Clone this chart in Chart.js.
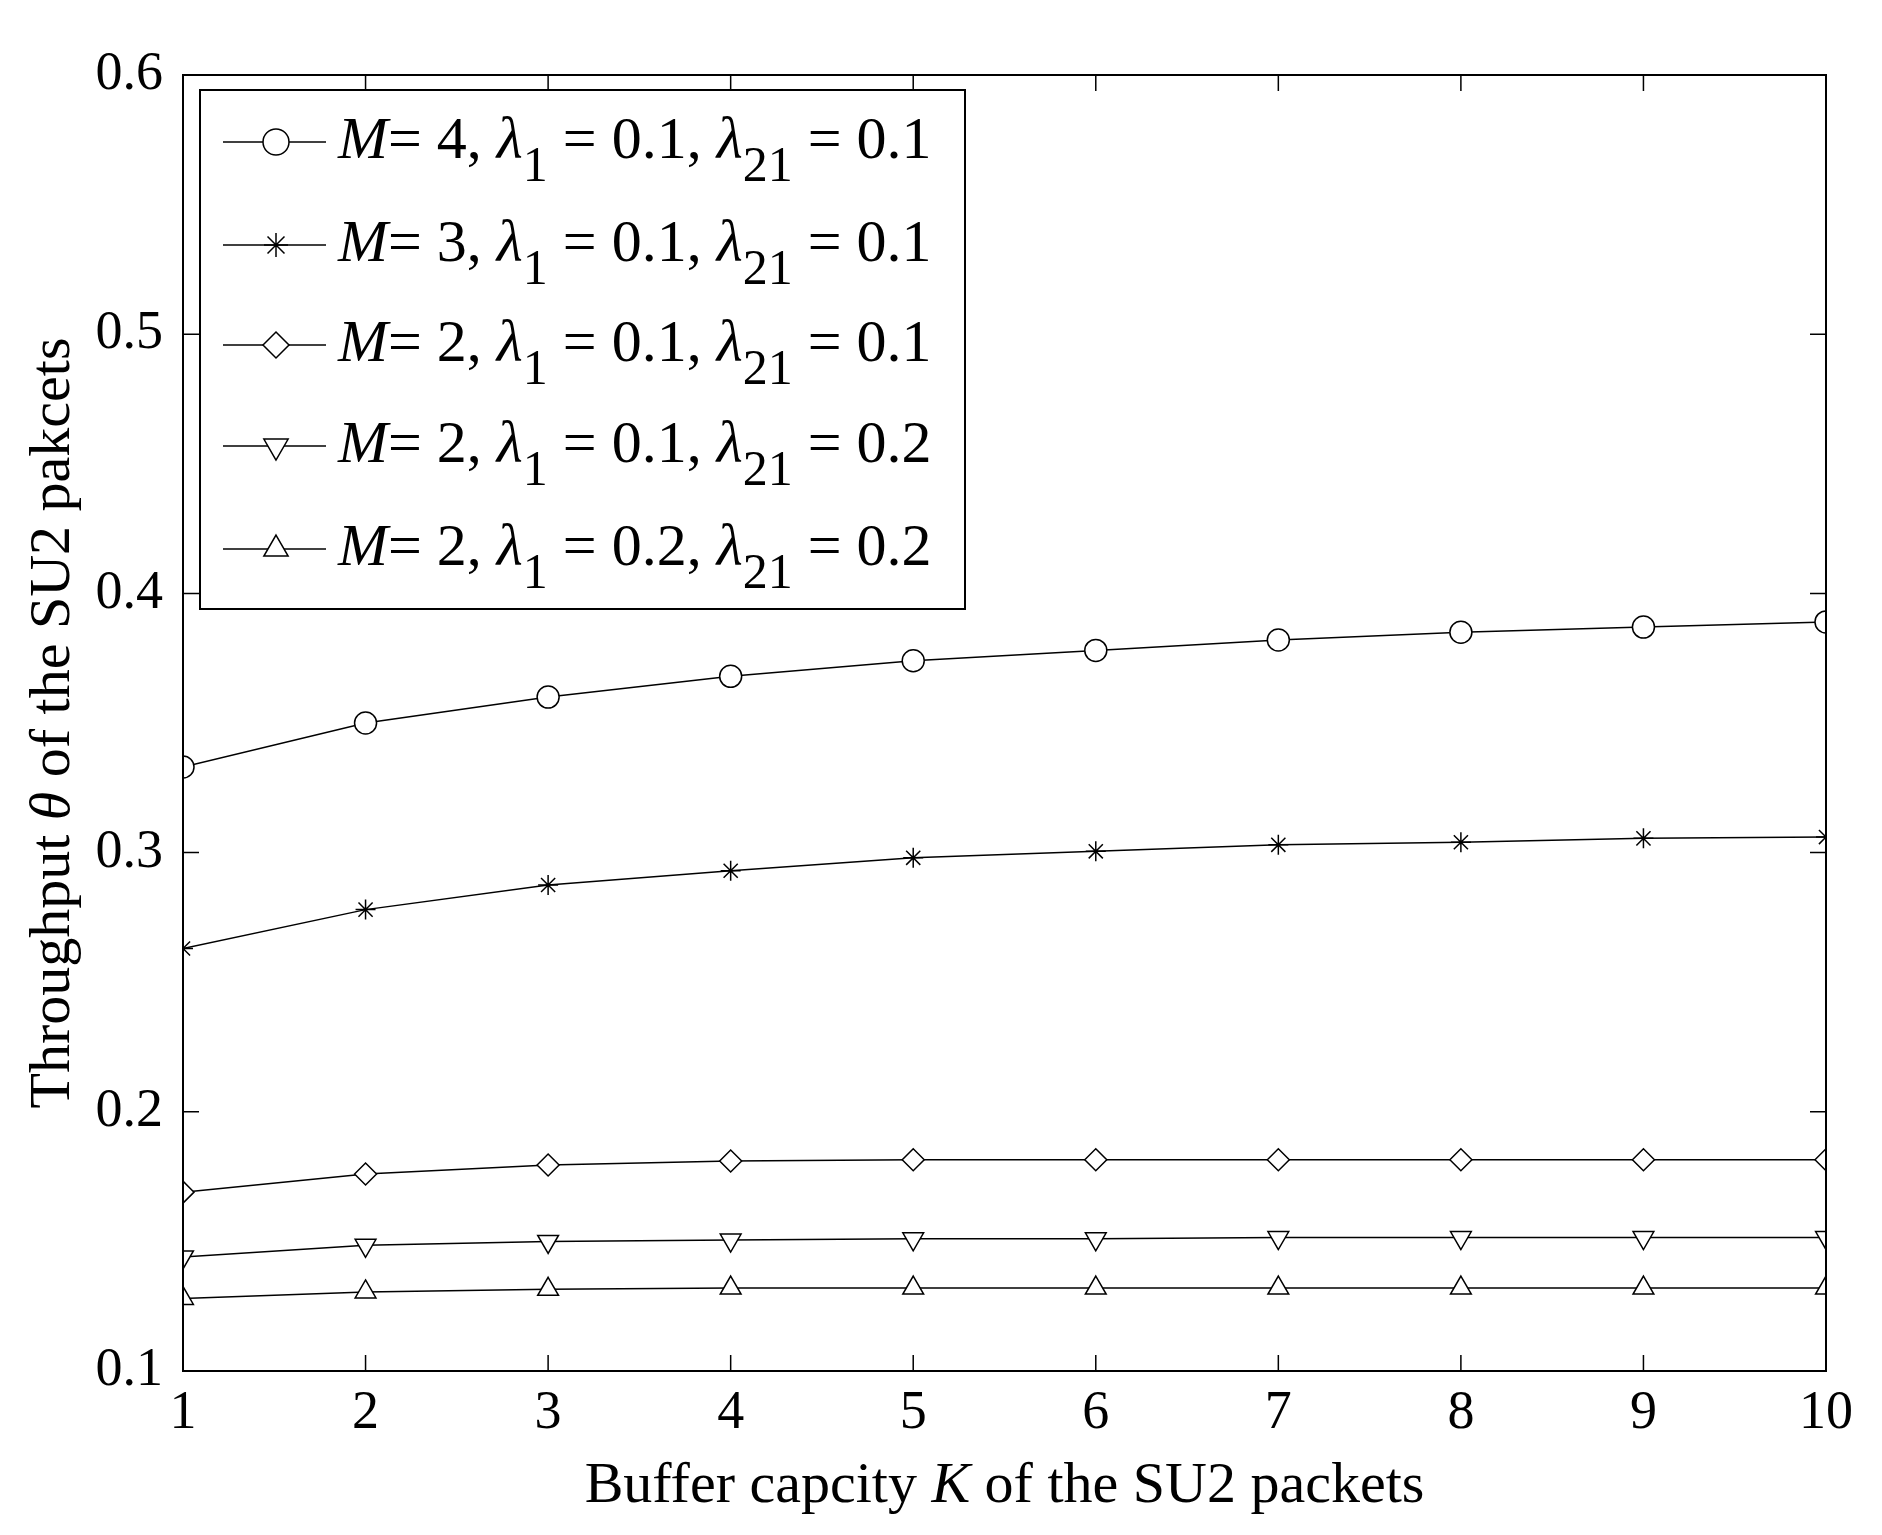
<!DOCTYPE html>
<html><head><meta charset="utf-8">
<script src="https://cdn.jsdelivr.net/npm/chart.js@4"></script>
<style>html,body{margin:0;padding:0;background:#fff}#c{display:block}</style>
</head><body>
<div style="width:1882px;height:1535px"><canvas id="c"></canvas></div>
<script>
const categories = [1,2,3,4,5,6,7,8,9,10];
const sM4 = [0.333,0.350,0.360,0.368,0.374,0.378,0.382,0.385,0.387,0.389];
const sM3 = [0.263,0.278,0.2875,0.293,0.298,0.3005,0.303,0.304,0.3055,0.306];
const sM2a = [0.169,0.176,0.1795,0.181,0.1815,0.1815,0.1815,0.1815,0.1815,0.1815];
const sM2b = [0.144,0.1485,0.150,0.1505,0.151,0.151,0.1515,0.1515,0.1515,0.1515];
const sM2c = [0.128,0.1305,0.1315,0.132,0.132,0.132,0.132,0.132,0.132,0.132];
const legendLabels = [["4","0.1","0.1"],["3","0.1","0.1"],["2","0.1","0.1"],["2","0.1","0.2"],["2","0.2","0.2"]];
const yTicks = [0.1,0.2,0.3,0.4,0.5,0.6];
const SERIF = '"Liberation Serif", "Times New Roman", serif';
const styles = [
  {pointStyle:'circle',rotation:0,r:11},
  {pointStyle:'star',rotation:0,r:10},
  {pointStyle:'rectRot',rotation:0,r:11},
  {pointStyle:'triangle',rotation:180,r:12},
  {pointStyle:'triangle',rotation:0,r:12}
];
const seriesList = [sM4,sM3,sM2a,sM2b,sM2c];
const datasets = seriesList.map((s,i)=>({
  data: s.map((v,j)=>({x:categories[j],y:v})),
  borderColor:'#000', borderWidth:1.5, backgroundColor:'#fff',
  pointStyle:styles[i].pointStyle, rotation:styles[i].rotation,
  pointRadius:styles[i].r, pointBorderWidth:1.5, pointBorderColor:'#000', pointBackgroundColor:'#fff', tension:0
}));

const framePlugin = {
  id:'frame',
  afterDraw(chart){
    const {ctx, chartArea:a, scales:{x,y}} = chart;
    ctx.save();
    ctx.strokeStyle='#000'; ctx.lineWidth=2;
    ctx.strokeRect(a.left,a.top,a.right-a.left,a.bottom-a.top);
    ctx.lineWidth=1.5;
    ctx.beginPath();
    categories.forEach(c=>{const px=x.getPixelForValue(c);ctx.moveTo(px,a.bottom);ctx.lineTo(px,a.bottom-16);ctx.moveTo(px,a.top);ctx.lineTo(px,a.top+16);});
    yTicks.forEach(t=>{const py=y.getPixelForValue(t);ctx.moveTo(a.left,py);ctx.lineTo(a.left+16,py);ctx.moveTo(a.right,py);ctx.lineTo(a.right-16,py);});
    ctx.stroke();
    // legend
    const L=200,T=90,R=965,B=609;
    ctx.fillStyle='#fff'; ctx.fillRect(L,T,R-L,B-T);
    ctx.strokeStyle='#000'; ctx.lineWidth=2;
    ctx.strokeRect(L,T,R-L,B-T);
    const rows=[142,245,345,446,549];
    legendLabels.forEach((lab,i)=>{
      const yy=rows[i];
      ctx.beginPath();ctx.moveTo(223,yy);ctx.lineTo(326,yy);ctx.strokeStyle='#000';ctx.lineWidth=1.5;ctx.stroke();
      ctx.fillStyle='#fff';
      Chart.helpers.drawPoint(ctx,{pointStyle:styles[i].pointStyle,rotation:styles[i].rotation,radius:styles[i].r+2,borderWidth:1.5},276,yy);
      ctx.fillStyle='#000';ctx.textBaseline='middle';ctx.textAlign='left';
      let xx=338;
      const put=(t,f,dy)=>{ctx.font=f;ctx.fillText(t,xx,yy+(dy||0));xx+=ctx.measureText(t).width;};
      const N='60px '+SERIF, I='italic 60px '+SERIF, S='50px '+SERIF;
      put('M',I); put('= '+lab[0]+', ',N); put('λ',I); put('1',S,26); put(' = '+lab[1]+', ',N);
      put('λ',I); put('21',S,26); put(' = '+lab[2],N);
    });
    // y title
    ctx.save();
    ctx.translate(54,(a.top+a.bottom)/2); ctx.rotate(-Math.PI/2);
    ctx.textAlign='left';ctx.textBaseline='middle';
    const parts=[['Throughput ','58px '+SERIF],['θ','italic 58px '+SERIF],[' of the SU2 pakcets','58px '+SERIF]];
    let w=0; parts.forEach(p=>{ctx.font=p[1];w+=ctx.measureText(p[0]).width;});
    let px=-w/2; parts.forEach(p=>{ctx.font=p[1];ctx.fillText(p[0],px,0);px+=ctx.measureText(p[0]).width;});
    ctx.restore();
    // x title
    ctx.textBaseline='middle';ctx.textAlign='left';
    const xp=[['Buffer capcity ','58px '+SERIF],['K','italic 58px '+SERIF],[' of the SU2 packets','58px '+SERIF]];
    w=0; xp.forEach(p=>{ctx.font=p[1];w+=ctx.measureText(p[0]).width;});
    px=(a.left+a.right)/2-w/2; xp.forEach(p=>{ctx.font=p[1];ctx.fillText(p[0],px,1487);px+=ctx.measureText(p[0]).width;});
    ctx.restore();
  }
};

new Chart(document.getElementById('c'),{
  type:'line',
  data:{datasets},
  options:{
    responsive:true, maintainAspectRatio:false, animation:false, devicePixelRatio:1,
    layout:{padding:{top:75,right:56,left:0,bottom:0}},
    plugins:{legend:{display:false},tooltip:{enabled:false}},
    scales:{
      x:{type:'linear',min:1,max:10,
        afterFit(s){s.height=164;},
        afterBuildTicks(s){s.ticks=categories.map(v=>({value:v}));},
        grid:{display:false},border:{display:false},
        ticks:{color:'#000',font:{family:SERIF,size:54},padding:2}},
      y:{min:0.1,max:0.6,
        afterFit(s){s.width=183;},
        afterBuildTicks(s){s.ticks=yTicks.map(v=>({value:v}));},
        grid:{display:false},border:{display:false},
        ticks:{color:'#000',font:{family:SERIF,size:54},padding:12,callback:v=>v.toFixed(1)}}
    }
  },
  plugins:[framePlugin]
});
</script>
</body></html>
